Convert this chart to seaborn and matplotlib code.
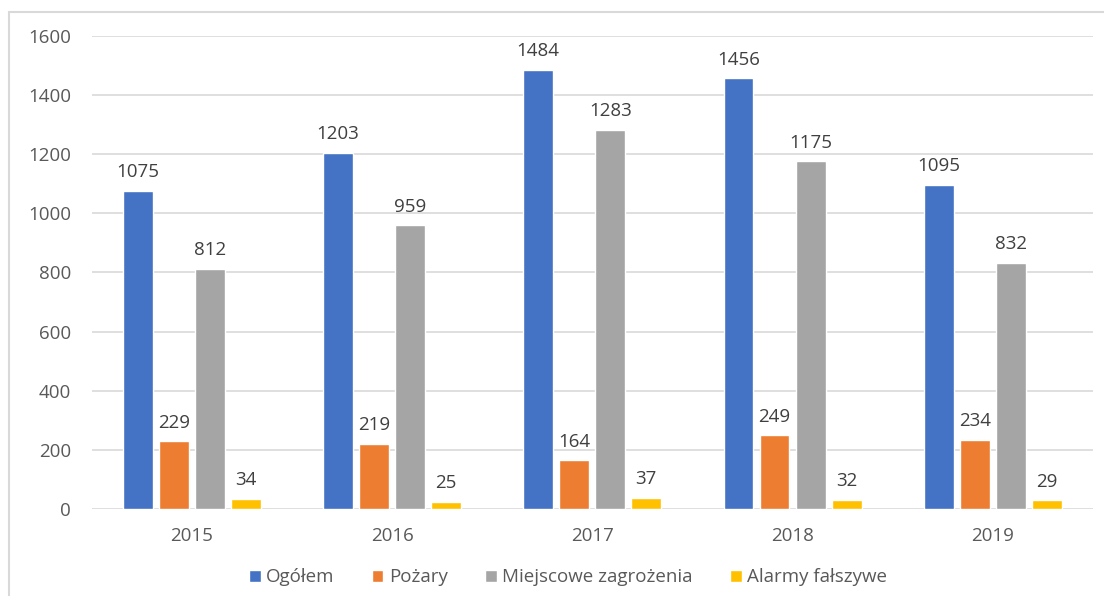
import pandas as pd
import matplotlib.pyplot as plt
import seaborn as sns
from matplotlib.patches import Rectangle

years = ["2015", "2016", "2017", "2018", "2019"]
series = ["Ogółem", "Pożary", "Miejscowe zagrożenia", "Alarmy fałszywe"]
ogolem = [1075, 1203, 1484, 1456, 1095]
pozary = [229, 219, 164, 249, 234]
miejscowe = [812, 959, 1283, 1175, 832]
alarmy = [34, 25, 37, 32, 29]
colors = ["#4472C4", "#ED7D31", "#A5A5A5", "#FFC000"]

df = pd.DataFrame({"year": years * 4,
                   "series": sum([[s] * 5 for s in series], []),
                   "value": ogolem + pozary + miejscowe + alarmy})

sns.set_theme(style="white")
plt.rcParams["font.family"] = ["Open Sans", "DejaVu Sans"]
text_col = "#595959"
fs = 13.5

fig = plt.figure(figsize=(11.04, 5.96), dpi=100)
ax = fig.add_axes([0.083, 0.146, 0.907, 0.794])
sns.barplot(data=df, x="year", y="value", hue="series", palette=colors,
            width=0.72, gap=0.17, saturation=1, ax=ax, legend=True)

for c in ax.containers:
    ax.bar_label(c, padding=7, fontsize=fs, color="#404040")

ax.set_ylim(0, 1600)
ax.set_yticks(range(0, 1601, 200))
ax.set_xlim(-0.5, 4.5)
ax.yaxis.grid(True, color="#D9D9D9", linewidth=1.2)
ax.set_axisbelow(True)
for s in ax.spines.values():
    s.set_visible(False)
ax.tick_params(axis="both", length=0, labelsize=fs, colors=text_col)
ax.tick_params(axis="y", pad=15)
ax.tick_params(axis="x", pad=13)
ax.set_xlabel("")
ax.set_ylabel("")

handles, labels = ax.get_legend_handles_labels()
ax.legend(handles, labels, loc="upper center", bbox_to_anchor=(0.476, -0.09),
          ncol=4, frameon=False, fontsize=fs, handlelength=0.6, handleheight=0.6,
          handletextpad=0.3, columnspacing=2.0, labelcolor=text_col)

# outer chart border
fig.patches.append(Rectangle((0.008, -0.01), 1.0, 0.99, transform=fig.transFigure,
                             fill=False, edgecolor="#D9D9D9", linewidth=1.5))

fig.savefig("out.png", dpi=100)
